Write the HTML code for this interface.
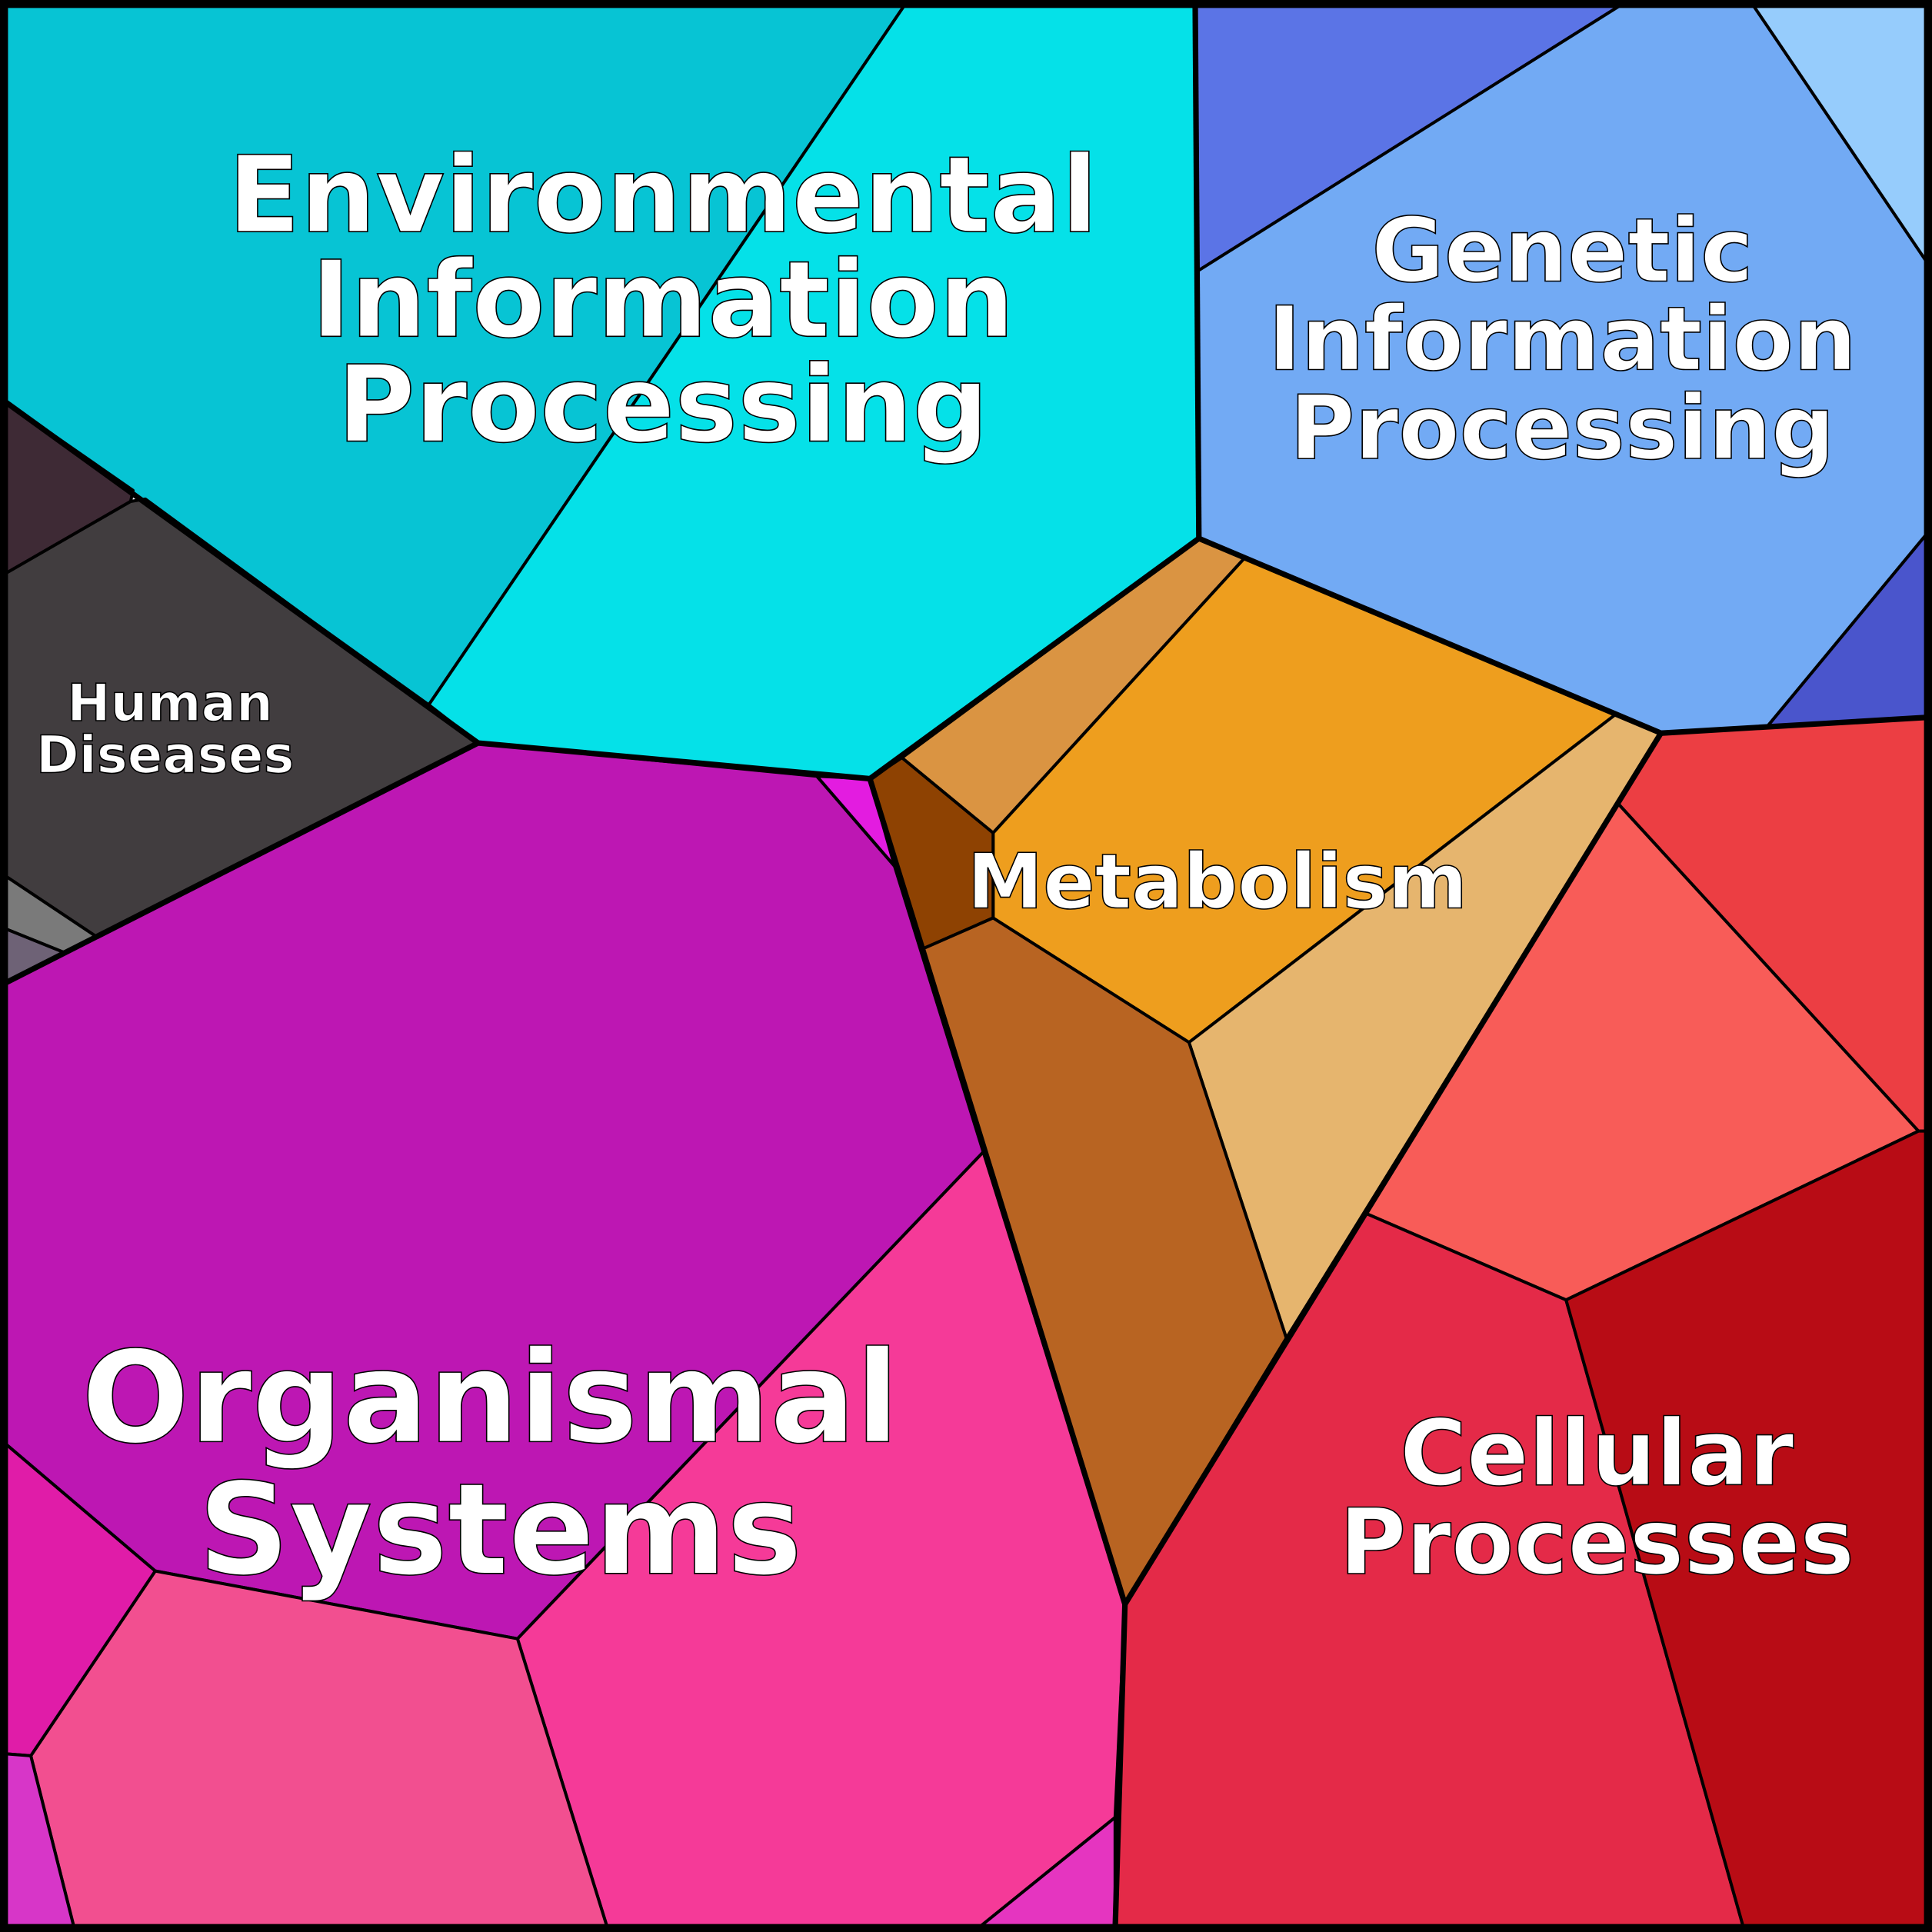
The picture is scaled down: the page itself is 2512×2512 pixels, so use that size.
<!DOCTYPE html>
<html><head><style>html,body{margin:0;padding:0;background:#fff}svg{display:block}</style></head><body>
<svg width="2512" height="2512" viewBox="0 0 1568 1568" xmlns="http://www.w3.org/2000/svg">
<g stroke="#000" stroke-width="2.5" stroke-linejoin="round">
<polygon fill="#07c4d4" points="0,0 737,0 348,572 0,323"/>
<polygon fill="#05e1e8" points="737,0 970,0 973,437 706,632 388,603 348,572"/>
<polygon fill="#5b74e6" points="970,0 1322,0 972,220"/>
<polygon fill="#72aaf4" points="1322,0 1420,0 1564,213 1564,433 1434,590 1348,595 973,437 972,220"/>
<polygon fill="#96ccfc" points="1420,0 1568,0 1568,213 1564,213"/>
<polygon fill="#4a55cc" points="1564,433 1568,433 1568,582 1434,590"/>
<polygon fill="#3e2a35" points="0,323 108,398 106,407 0,468"/>
<polygon fill="#413d3f" points="0,468 106,407 118,405 388,603 78,760 0,708"/>
<polygon fill="#7a7a7a" points="0,708 78,760 52,773 0,752"/>
<polygon fill="#6e6276" points="0,752 52,773 0,800"/>
<polygon fill="#bd17b3" points="0,800 388,603 663,630 726,703 798,935 420,1330 126,1275 0,1168"/>
<polygon fill="#e31ce0" points="663,630 706,632 726,703"/>
<polygon fill="#f53a98" points="798,935 913,1302 905,1475 790,1568 494,1568 420,1330"/>
<polygon fill="#f24f90" points="126,1275 420,1330 494,1568 61,1568 25,1425"/>
<polygon fill="#e01ca8" points="0,1168 126,1275 25,1425 0,1423"/>
<polygon fill="#d736c8" points="0,1423 25,1425 61,1568 0,1568"/>
<polygon fill="#e535c0" points="905,1475 905,1568 790,1568"/>
<polygon fill="#da9442" points="973,437 1010,453 806,676 732,615"/>
<polygon fill="#ee9e1e" points="1010,453 1311,580 965,846 806,745 806,676"/>
<polygon fill="#e6b56e" points="1311,580 1348,595 1044,1086 965,846"/>
<polygon fill="#8e4202" points="706,632 732,615 806,676 806,745 749,770"/>
<polygon fill="#b86422" points="749,770 806,745 965,846 1044,1086 913,1302"/>
<polygon fill="#ec3e43" points="1348,595 1568,582 1568,918 1557,918 1313,652"/>
<polygon fill="#f85c58" points="1313,652 1557,918 1271,1055 1109,985"/>
<polygon fill="#e42a48" points="1109,985 1271,1055 1416,1568 905,1568 913,1302 1044,1086"/>
<polygon fill="#b80c15" points="1271,1055 1557,918 1568,918 1568,1568 1416,1568"/>
</g>
<g fill="none" stroke="#000" stroke-width="4.5" stroke-linejoin="round">
<polyline points="0,323 388,603 706,632 973,437 1348,595 1568,582"/>
<polyline points="388,603 0,800"/>
<polyline points="706,632 913,1302 1348,595"/>
<polyline points="913,1302 905,1568"/>
<polyline points="970,0 973,437"/>
<rect x="3" y="3" width="1562" height="1562" stroke-width="7"/>
</g>
<g fill="#fff" stroke="#000" stroke-width="1" font-family="DejaVu Sans, sans-serif" font-weight="bold" text-anchor="middle">
<text font-size="86" x="538" y="188">Environmental</text>
<text font-size="86" x="538" y="273">Information</text>
<text font-size="86" x="538" y="358">Processing</text>
<text font-size="72" x="1268" y="228">Genetic</text>
<text font-size="72" x="1268" y="300">Information</text>
<text font-size="72" x="1268" y="372">Processing</text>
<text font-size="42" x="138" y="585">Human</text>
<text font-size="42" x="134" y="627">Diseases</text>
<text font-size="62" x="988" y="737">Metabolism</text>
<text font-size="103" x="398" y="1170">Organismal</text>
<text font-size="103" x="406" y="1277">Systems</text>
<text font-size="74" x="1296" y="1205">Cellular</text>
<text font-size="74" x="1296" y="1277">Processes</text>
</g>
</svg>
</body></html>
